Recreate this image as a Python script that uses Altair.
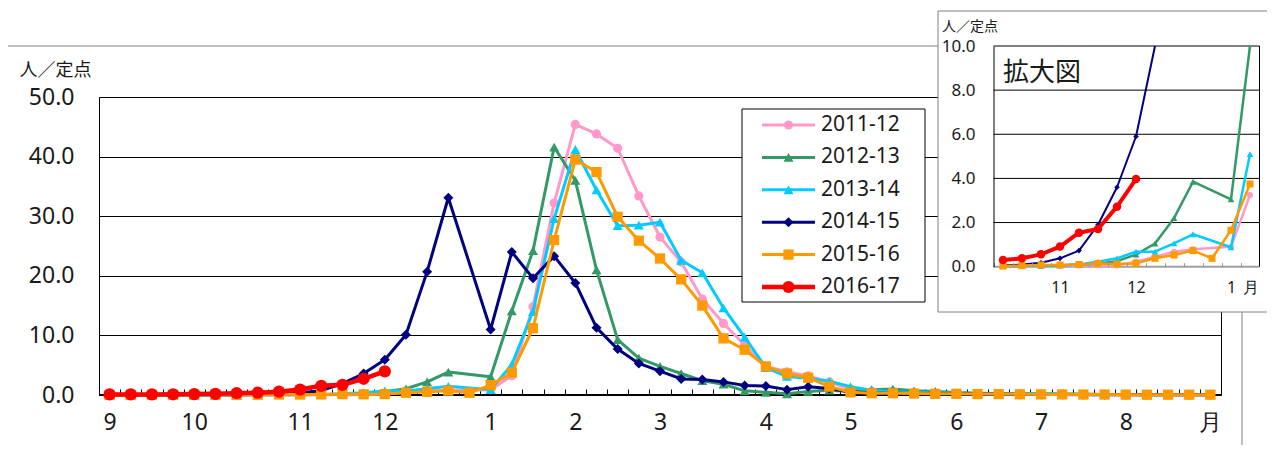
import altair as alt
import pandas as pd

# ---------------- data ----------------
SEASONS = ["2011-12", "2012-13", "2013-14", "2014-15", "2015-16", "2016-17"]
WEEK_IDX = list(range(53))          # week slots: Sep (wk36) ... Aug (wk35); slot 17 = week 53

V_2011_12 = [0.02, 0.02, 0.02, 0.02, 0.03, 0.03, 0.03, 0.03, 0.04, 0.04, 0.05, 0.05, 0.05,
             0.23, 0.45, 0.68, 0.79, None, 0.9, 3.25, 14.8, 32.2, 45.4, 43.8, 41.4, 33.4,
             26.5, 22.3, 16.1, 12.0, 8.4, 4.8, 3.9, 3.2, 2.2, 0.9, 0.6, 0.45, 0.35, 0.3,
             0.25, 0.2, 0.2, 0.15, 0.15, 0.1, 0.1, 0.1, 0.1, 0.05, 0.05, 0.05, 0.05]
V_2012_13 = [0.02, 0.02, 0.02, 0.03, 0.03, 0.03, 0.03, 0.03, 0.05, 0.06, 0.1, 0.13, 0.25,
             0.55, 1.05, 2.2, 3.85, None, 3.05, 14.1, 24.2, 41.6, 36.0, 21.0, 9.3, 6.2,
             4.8, 3.6, 2.4, 1.8, 0.7, 0.45, 0.2, 0.6, 0.8, 0.6, 0.9, 1.0, 0.7, 0.6,
             0.4, 0.3, 0.25, 0.2, 0.2, 0.15, 0.15, 0.1, 0.1, 0.1, 0.1, 0.1, 0.1]
V_2013_14 = [0.02, 0.02, 0.02, 0.02, 0.02, 0.03, 0.03, 0.04, 0.05, 0.07, 0.1, 0.23, 0.38,
             0.68, 0.68, 1.06, 1.47, None, 0.88, 5.1, 14.0, 29.6, 41.2, 34.4, 28.4, 28.5,
             29.0, 22.6, 20.5, 14.6, 9.7, 4.6, 3.1, 2.8, 2.3, 1.4, 0.8, 0.5, 0.4, 0.35,
             0.3, 0.25, 0.2, 0.2, 0.15, 0.15, 0.1, 0.1, 0.1, 0.05, 0.05, 0.05, 0.05]
V_2014_15 = [0.04, 0.04, 0.05, 0.05, 0.06, 0.06, 0.06, 0.1, 0.18, 0.38, 0.73, 1.9, 3.6,
             5.9, 10.1, 20.7, 33.1, None, 11.0, 24.0, 19.6, 23.3, 18.8, 11.3, 7.7, 5.3,
             4.0, 2.7, 2.6, 2.2, 1.6, 1.5, 0.9, 1.4, 1.1, 0.5, 0.35, 0.3, 0.25, 0.2,
             0.2, 0.15, 0.15, 0.1, 0.1, 0.1, 0.05, 0.05, 0.05, 0.05, 0.05, 0.05, 0.05]
V_2015_16 = [0.02, 0.02, 0.02, 0.03, 0.03, 0.03, 0.03, 0.05, 0.08, 0.08, 0.1, 0.15, 0.12,
             0.15, 0.38, 0.53, 0.73, 0.38, 1.65, 3.75, 11.2, 26.0, 39.5, 37.4, 29.9, 25.9,
             22.9, 19.4, 15.0, 9.5, 7.6, 4.8, 3.6, 2.9, 1.4, 0.45, 0.3, 0.3, 0.25, 0.2,
             0.2, 0.15, 0.15, 0.12, 0.1, 0.1, 0.08, 0.08, 0.06, 0.05, 0.05, 0.05, 0.05]
V_2016_17 = [0.1, 0.1, 0.1, 0.12, 0.15, 0.2, 0.3, 0.38, 0.56, 0.91, 1.54, 1.71, 2.72, 3.97]

SERIES = [V_2011_12, V_2012_13, V_2013_14, V_2014_15, V_2015_16, V_2016_17]

MONTH_POS = [0, 4, 9, 13, 18, 22, 26, 31, 35, 40, 44, 48, 52]
MONTH_LABELS = ["9", "10", "11", "12", "1", "2", "3", "4", "5", "6", "7", "8", "月"]
Y_TICKS = [0, 10, 20, 30, 40, 50]

INSET_WEEKS = list(range(6, 20))
INSET_POS = [9, 13, 18, 19]
INSET_LABELS = ["11", "12", "1", "月"]
INSET_Y_TICKS = [0, 2, 4, 6, 8, 10]

# ---------------- style ----------------
COLORS = ["#FF99CC", "#339966", "#00CCFF", "#000080", "#FF9900", "#FF0000"]
SHAPES = ["circle", "triangle-up", "triangle-up", "diamond", "square", "circle"]
MAIN_LW = [3, 3, 3, 3, 3, 4.5]
MAIN_SIZE = [85, 100, 100, 100, 105, 150]
INSET_LW = [2.5, 2.5, 2.5, 2, 2.5, 4]
INSET_SIZE = [36, 45, 45, 32, 50, 72]

FONT = "Noto Sans"
CJK = "Noto Sans CJK JP"
TXT = "#1a1a1a"

W, H = 1122, 298
BAND = W / len(WEEK_IDX)
IN_X_RANGE = [894.5, 1160.5]
IN_Y_RANGE = [169.7, -51]
IN_BAND = (IN_X_RANGE[1] - IN_X_RANGE[0]) / len(INSET_WEEKS)

# ---------------- tables ----------------
rows = []
for s, vals in zip(SEASONS, SERIES):
    for i, v in zip(WEEK_IDX, vals):
        if v is not None:
            rows.append({"season": s, "idx": i, "value": v})
df = pd.DataFrame(rows)

# inset: weeks of the zoom window, each series cut after it first leaves the 0-10 range
in_rows = []
for s, vals in zip(SEASONS, SERIES):
    for i, v in zip(WEEK_IDX, vals):
        if v is None or i < INSET_WEEKS[0] or i > INSET_WEEKS[-1]:
            continue
        in_rows.append({"season": s, "idx": i, "value": v})
        if v > INSET_Y_TICKS[-1]:
            break
df_in = pd.DataFrame(in_rows)


def label_expr(pos, labels):
    expr = "''"
    for p, lab in reversed(list(zip(pos, labels))):
        expr = f"datum.value == {p} ? '{lab}' : ({expr})"
    return expr


one = pd.DataFrame({"k": [0]})

# ---------------- scales ----------------
def xs_main():
    return alt.Scale(domain=[WEEK_IDX[0] - 0.5, WEEK_IDX[-1] + 0.5], range=[0, W],
                     nice=False, zero=False)


def ys_main():
    return alt.Scale(domain=[Y_TICKS[0], Y_TICKS[-1]], range=[H, 0], nice=False)


def xs_in():
    return alt.Scale(domain=[INSET_WEEKS[0] - 0.5, INSET_WEEKS[-1] + 0.5], range=IN_X_RANGE,
                     nice=False, zero=False)


def ys_in():
    return alt.Scale(domain=[INSET_Y_TICKS[0], INSET_Y_TICKS[-1]], range=IN_Y_RANGE,
                     nice=False, clamp=True)


main_x_axis = alt.Axis(
    values=WEEK_IDX, tickOffset=-BAND / 2, labelOffset=BAND / 2,
    labelExpr=label_expr(MONTH_POS, MONTH_LABELS), labelOverlap=False, labelFlush=False,
    tickSize=6, tickColor="black", tickWidth=1, offset=-6, domain=False,
    labelPadding=16, labelFontSize=23, labelFont=FONT, labelColor=TXT,
    grid=False, title=None, orient="bottom")
main_y_axis = alt.Axis(
    values=Y_TICKS, format=".1f", tickSize=0, labelPadding=25, labelFontSize=23,
    labelFont=FONT, labelColor=TXT, domain=False, grid=True, gridColor="black", gridWidth=1,
    title="人／定点", titleAngle=0, titleAlign="left", titleBaseline="middle",
    titleX=-80, titleY=-27, titleFontSize=18, titleFontWeight="normal", titleFont=CJK,
    titleColor=TXT, orient="left")

in_x_axis = alt.Axis(
    values=INSET_WEEKS, tickOffset=-IN_BAND / 2, labelOffset=IN_BAND / 2,
    labelExpr=label_expr(INSET_POS, INSET_LABELS), labelOverlap=False, labelFlush=False,
    tickSize=4, tickColor="#999999", offset=-(H - IN_Y_RANGE[0]) - 4, domain=False,
    labelPadding=13, labelFontSize=16, labelFont=FONT, labelColor=TXT, grid=False,
    title=None, orient="bottom", zindex=1)
in_y_axis = alt.Axis(
    values=INSET_Y_TICKS, format=".1f", orient="left", offset=-IN_X_RANGE[0], tickSize=0,
    labelPadding=18.5, labelFontSize=17, labelFont=FONT, labelColor=TXT,
    domain=True, domainColor="black", domainWidth=1, grid=False,
    title="人／定点", titleAngle=0, titleAlign="left", titleBaseline="middle",
    titleX=-52, titleY=-71, titleFontSize=14, titleFontWeight="normal", titleFont=CJK,
    titleColor=TXT, zindex=1)

layers = []

# ---------------- frame ----------------
layers.append(alt.Chart(one).mark_rect(fillOpacity=0, stroke="#808080", strokeWidth=1).encode(
    x=alt.value(-94), x2=alt.value(1143), y=alt.value(-51), y2=alt.value(420)))

# ---------------- main chart ----------------
base_df = pd.DataFrame({"x0": [WEEK_IDX[0] - 0.5], "x1": [WEEK_IDX[-1] + 0.5], "y": [Y_TICKS[0]]})
layers.append(alt.Chart(base_df).mark_rule(color="black", strokeWidth=2).encode(
    x=alt.X("x0:Q", scale=xs_main(), axis=main_x_axis),
    x2="x1:Q",
    y=alt.Y("y:Q", scale=ys_main(), axis=main_y_axis)))
for i, s in enumerate(SEASONS):
    src = alt.Chart(df).transform_filter(alt.datum.season == s)
    layers.append(src.mark_line(color=COLORS[i], strokeWidth=MAIN_LW[i],
                                strokeJoin="round").encode(
        x=alt.X("idx:Q", scale=xs_main(), axis=None),
        y=alt.Y("value:Q", scale=ys_main(), axis=None)))
    layers.append(src.mark_point(filled=True, opacity=1, shape=SHAPES[i],
                                 size=MAIN_SIZE[i], color=COLORS[i]).encode(
        x=alt.X("idx:Q", scale=xs_main(), axis=None),
        y=alt.Y("value:Q", scale=ys_main(), axis=None)))

# ---------------- legend ----------------
def leg_y():
    return alt.Y("season:N", scale=alt.Scale(type="point", domain=SEASONS, range=[28, 190],
                                             padding=0), axis=None)


leg_df = pd.DataFrame({"season": SEASONS})
layers.append(alt.Chart(one).mark_rect(fill="white", stroke="black", strokeWidth=1).encode(
    x=alt.value(643), x2=alt.value(826), y=alt.value(12), y2=alt.value(205)))
for i, s in enumerate(SEASONS):
    src = alt.Chart(leg_df).transform_filter(alt.datum.season == s)
    layers.append(src.mark_rule(color=COLORS[i], strokeWidth=MAIN_LW[i]).encode(
        x=alt.value(663), x2=alt.value(716), y=leg_y()))
    layers.append(src.mark_point(filled=True, opacity=1, shape=SHAPES[i],
                                 size=MAIN_SIZE[i], color=COLORS[i]).encode(
        x=alt.value(689.5), y=leg_y()))
layers.append(alt.Chart(leg_df).mark_text(align="left", baseline="middle", fontSize=21,
                                          font=FONT, color=TXT).encode(
    x=alt.value(722), y=leg_y(), text="season:N"))

# ---------------- inset ----------------
in_grid_df = pd.DataFrame({"y": INSET_Y_TICKS[1:],
                           "x0": [INSET_WEEKS[0] - 0.5] * (len(INSET_Y_TICKS) - 1),
                           "x1": [INSET_WEEKS[-1] + 0.5] * (len(INSET_Y_TICKS) - 1)})
in_edge_df = pd.DataFrame({"x": [INSET_WEEKS[-1] + 0.5], "y0": [INSET_Y_TICKS[0]],
                           "y1": [INSET_Y_TICKS[-1]]})
in_base_df = pd.DataFrame({"x0": [INSET_WEEKS[0] - 0.5], "x1": [INSET_WEEKS[-1] + 0.5],
                           "y": [INSET_Y_TICKS[0]]})

layers.append(alt.Chart(one).mark_rect(fill="white", stroke="#808080", strokeWidth=1).encode(
    x=alt.value(839), x2=alt.value(1174), y=alt.value(-86), y2=alt.value(215)))
layers.append(alt.Chart(in_base_df).mark_rule(color="#a0a0a0", strokeWidth=2).encode(
    x=alt.X("x0:Q", scale=xs_in(), axis=in_x_axis), x2="x1:Q",
    y=alt.Y("y:Q", scale=ys_in(), axis=in_y_axis)))
layers.append(alt.Chart(in_grid_df).mark_rule(color="black", strokeWidth=1).encode(
    x=alt.X("x0:Q", scale=xs_in(), axis=None), x2="x1:Q",
    y=alt.Y("y:Q", scale=ys_in(), axis=None)))
layers.append(alt.Chart(in_edge_df).mark_rule(color="black", strokeWidth=1).encode(
    x=alt.X("x:Q", scale=xs_in(), axis=None),
    y=alt.Y("y0:Q", scale=ys_in(), axis=None), y2="y1:Q"))
layers.append(alt.Chart(one).mark_text(text="拡大図", align="left", baseline="middle",
                                       fontSize=26, font=CJK, color=TXT).encode(
    x=alt.value(904), y=alt.value(-24)))
for i, s in enumerate(SEASONS):
    src = alt.Chart(df_in).transform_filter(alt.datum.season == s)
    layers.append(src.mark_line(color=COLORS[i], strokeWidth=INSET_LW[i],
                                strokeJoin="round").encode(
        x=alt.X("idx:Q", scale=xs_in(), axis=None),
        y=alt.Y("value:Q", scale=ys_in(), axis=None)))
    layers.append(src.transform_filter(f"datum.value <= {INSET_Y_TICKS[-1]}")
                  .mark_point(filled=True, opacity=1, shape=SHAPES[i],
                              size=INSET_SIZE[i], color=COLORS[i]).encode(
        x=alt.X("idx:Q", scale=xs_in(), axis=None),
        y=alt.Y("value:Q", scale=ys_in(), axis=None)))

chart = (
    alt.layer(*layers)
    .resolve_scale(x="independent", y="independent")
    .properties(width=W, height=H, autosize=alt.AutoSizeParams(type="none"),
                padding={"left": 91, "top": 89, "right": 46, "bottom": 50},
                background="white")
    .configure_view(stroke="black", strokeWidth=1)
)

chart.save("out.html", embed_options={"renderer": "svg", "actions": False})
